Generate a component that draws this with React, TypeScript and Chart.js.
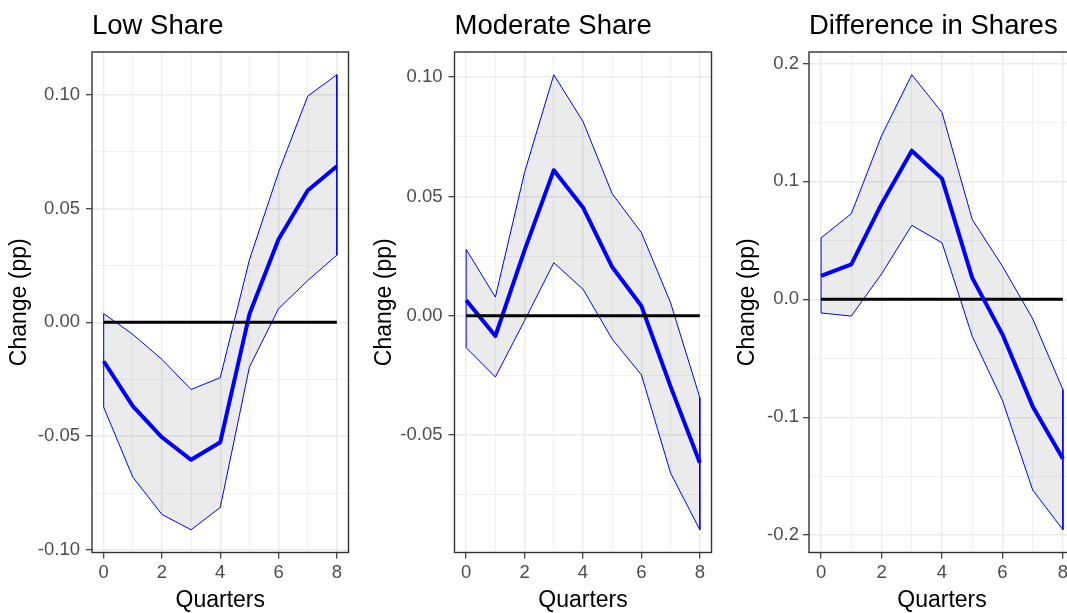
import React, { useEffect, useRef } from "react";
import { Chart, registerables } from "chart.js";

Chart.register(...registerables);

// ---------------- data ----------------
const quarters = [0, 1, 2, 3, 4, 5, 6, 7, 8];
const xMajorTicks = [0, 2, 4, 6, 8];
const xMinorTicks = [1, 3, 5, 7];
const xTickLabels = ["0", "2", "4", "6", "8"];

const lowMid = [-0.0171, -0.0368, -0.0505, -0.0604, -0.0527, 0.0035, 0.0365, 0.0579, 0.0685];
const lowUpper = [0.0038, -0.0053, -0.0163, -0.0295, -0.0243, 0.0274, 0.0659, 0.0993, 0.1087];
const lowLower = [-0.0373, -0.068, -0.0844, -0.0911, -0.0813, -0.0197, 0.006, 0.0183, 0.0295];
const lowYMajor = [-0.1, -0.05, 0, 0.05, 0.1];
const lowYMinor = [-0.075, -0.025, 0.025, 0.075];
const lowYLabels = ["-0.10", "-0.05", "0.00", "0.05", "0.10"];

const modMid = [0.0065, -0.0085, 0.0275, 0.061, 0.0454, 0.0204, 0.0041, -0.0297, -0.0616];
const modUpper = [0.0278, 0.0078, 0.0601, 0.101, 0.0814, 0.0511, 0.0348, 0.0054, -0.0343];
const modLower = [-0.0134, -0.0257, -0.002, 0.0222, 0.0111, -0.0098, -0.0248, -0.066, -0.0897];
const modYMajor = [-0.05, 0, 0.05, 0.1];
const modYMinor = [-0.075, -0.025, 0.025, 0.075];
const modYLabels = ["-0.05", "0.00", "0.05", "0.10"];

const diffMid = [0.0198, 0.0297, 0.0809, 0.126, 0.1023, 0.0182, -0.0297, -0.0908, -0.1353];
const diffUpper = [0.0521, 0.0726, 0.1386, 0.1904, 0.1584, 0.0677, 0.028, -0.0165, -0.0766];
const diffLower = [-0.0116, -0.0142, 0.0215, 0.0627, 0.0479, -0.0314, -0.0858, -0.1617, -0.1954];
const diffYMajor = [-0.2, -0.1, 0, 0.1, 0.2];
const diffYMinor = [-0.15, -0.05, 0.05, 0.15];
const diffYLabels = ["-0.2", "-0.1", "0.0", "0.1", "0.2"];

const zeroLevel = 0;

// ---------------- style / layout ----------------
const FONT = '"Liberation Sans", Arial, Helvetica, sans-serif';
const BLUE = "#0000FF";
const GRID = "#EBEBEB";
const TICK_TEXT = "#4D4D4D";
const CANVAS_H = 613;

type Panel = {
  title: string;
  mid: number[];
  upper: number[];
  lower: number[];
  yMajor: number[];
  yMinor: number[];
  yLabels: string[];
  left: number;
  width: number;
  axisWidth: number;
  rightPad: number;
  yTitleMid: number;
  tickPad: number;
  zeroOnTop: boolean;
};

const panels: Panel[] = [
  {
    title: "Low Share", mid: lowMid, upper: lowUpper, lower: lowLower,
    yMajor: lowYMajor, yMinor: lowYMinor, yLabels: lowYLabels,
    left: 0, width: 360, axisWidth: 92, rightPad: 11.5, yTitleMid: 20, tickPad: 6, zeroOnTop: true,
  },
  {
    title: "Moderate Share", mid: modMid, upper: modUpper, lower: modLower,
    yMajor: modYMajor, yMinor: modYMinor, yLabels: modYLabels,
    left: 360, width: 363, axisWidth: 94.5, rightPad: 11.5, yTitleMid: 25, tickPad: 6, zeroOnTop: true,
  },
  {
    title: "Difference in Shares", mid: diffMid, upper: diffUpper, lower: diffLower,
    yMajor: diffYMajor, yMinor: diffYMinor, yLabels: diffYLabels,
    left: 720, width: 366, axisWidth: 89, rightPad: 11, yTitleMid: 28, tickPad: 4, zeroOnTop: false,
  },
];

const near = (a: number, b: number) => Math.abs(a - b) < 1e-9;
const inList = (v: number, list: number[]) => list.some((t) => near(t, v));

const framePlugin = {
  id: "panelFrame",
  afterDatasetsDraw(chart: any) {
    const { ctx, chartArea: a } = chart;
    ctx.save();
    ctx.strokeStyle = "#333333";
    ctx.lineWidth = 1.4;
    ctx.strokeRect(a.left, a.top, a.right - a.left, a.bottom - a.top);
    ctx.restore();
  },
};

function PanelChart({ p }: { p: Panel }) {
  const ref = useRef<HTMLCanvasElement | null>(null);

  useEffect(() => {
    if (!ref.current) return;
    const pts = (ys: number[]) => quarters.map((q, i) => ({ x: q, y: ys[i] }));
    const outline = [
      ...quarters.map((q, i) => ({ x: q, y: p.upper[i] })),
      ...quarters.slice().reverse().map((q) => ({ x: q, y: p.lower[q] })),
      { x: quarters[0], y: p.upper[0] },
    ];
    const lo = Math.min(...p.lower, ...p.mid, zeroLevel);
    const hi = Math.max(...p.upper, ...p.mid, zeroLevel);
    const pad = (hi - lo) * 0.05;
    const xPad = (quarters[quarters.length - 1] - quarters[0]) * 0.05;

    const yTicks = [...p.yMajor, ...p.yMinor].sort((a, b) => a - b);
    const xTicks = [...xMajorTicks, ...xMinorTicks].sort((a, b) => a - b);

    const chart = new Chart(ref.current, {
      type: "line",
      data: {
        datasets: [
          {
            label: "upper",
            data: pts(p.upper),
            borderWidth: 0,
            borderColor: "rgba(0,0,0,0)",
            pointRadius: 0,
            fill: false,
            order: 10,
          },
          {
            label: "lower",
            data: pts(p.lower),
            borderWidth: 0,
            borderColor: "rgba(0,0,0,0)",
            backgroundColor: "rgba(0,0,0,0.08)",
            pointRadius: 0,
            fill: 0,
            order: 9,
          },
          {
            label: "band",
            data: outline,
            borderWidth: 1,
            borderColor: BLUE,
            pointRadius: 0,
            fill: false,
            order: 8,
          },
          {
            label: "estimate",
            data: pts(p.mid),
            borderWidth: 4,
            borderColor: BLUE,
            borderJoinStyle: "round",
            pointRadius: 0,
            fill: false,
            order: p.zeroOnTop ? 7 : 6,
          },
          {
            label: "zero",
            data: quarters.map((q) => ({ x: q, y: zeroLevel })),
            borderWidth: 3,
            borderColor: "#000000",
            pointRadius: 0,
            fill: false,
            order: p.zeroOnTop ? 6 : 7,
          },
        ],
      },
      options: {
        responsive: false,
        animation: false,
        events: [],
        layout: { padding: { left: 0, right: p.rightPad, top: 0, bottom: 0 } },
        elements: { line: { tension: 0 } },
        plugins: {
          legend: { display: false },
          tooltip: { enabled: false },
          title: {
            display: true,
            text: p.title,
            align: "start",
            fullSize: false,
            color: "#000000",
            font: { family: FONT, size: 27.5, weight: "normal", lineHeight: 1.2 },
            padding: { top: 9.5, bottom: 9.5 },
          },
        },
        scales: {
          x: {
            type: "linear",
            min: quarters[0] - xPad,
            max: quarters[quarters.length - 1] + xPad,
            afterBuildTicks: (s: any) => {
              s.ticks = xTicks.map((v) => ({ value: v }));
            },
            afterFit: (s: any) => {
              s.height = 60.5;
            },
            ticks: {
              autoSkip: false,
              maxRotation: 0,
              padding: 3,
              color: TICK_TEXT,
              font: { family: FONT, size: 18.5, lineHeight: 1.2 },
              callback: (v: any) => {
                const idx = xMajorTicks.findIndex((t) => near(t, Number(v)));
                return idx >= 0 ? xTickLabels[idx] : "";
              },
            },
            grid: {
              color: GRID,
              lineWidth: (c: any) => (c.tick && inList(c.tick.value, xMajorTicks) ? 1.4 : 0.7),
              tickColor: (c: any) => (c.tick && inList(c.tick.value, xMajorTicks) ? "#333333" : "rgba(0,0,0,0)"),
              tickWidth: 1.2,
              tickLength: 6,
            },
            border: { display: false },
            title: {
              display: true,
              text: "Quarters",
              color: "#000000",
              font: { family: FONT, size: 23, lineHeight: 1.1 },
              padding: { top: 0, bottom: 0 },
            },
          },
          y: {
            type: "linear",
            min: lo - pad,
            max: hi + pad,
            afterBuildTicks: (s: any) => {
              s.ticks = yTicks.map((v) => ({ value: v }));
            },
            afterFit: (s: any) => {
              s.width = p.axisWidth;
            },
            ticks: {
              autoSkip: false,
              padding: p.tickPad,
              color: TICK_TEXT,
              font: { family: FONT, size: 18.5, lineHeight: 1.2 },
              callback: (v: any) => {
                const idx = p.yMajor.findIndex((t) => near(t, Number(v)));
                return idx >= 0 ? p.yLabels[idx] : "";
              },
            },
            grid: {
              color: GRID,
              lineWidth: (c: any) => (c.tick && inList(c.tick.value, p.yMajor) ? 1.4 : 0.7),
              tickColor: (c: any) => (c.tick && inList(c.tick.value, p.yMajor) ? "#333333" : "rgba(0,0,0,0)"),
              tickWidth: 1.2,
              tickLength: 6,
            },
            border: { display: false },
            title: {
              display: true,
              text: "Change (pp)",
              color: "#000000",
              font: { family: FONT, size: 23, lineHeight: 1.2 },
              padding: { top: p.yTitleMid - 13.8, bottom: 0 },
            },
          },
        },
      },
      plugins: [framePlugin],
    } as any);

    return () => chart.destroy();
  }, [p]);

  return (
    <canvas
      ref={ref}
      width={p.width}
      height={CANVAS_H}
      style={{ position: "absolute", left: p.left, top: 0, width: p.width, height: CANVAS_H }}
    />
  );
}

export default function App() {
  return (
    <div
      style={{
        position: "absolute",
        left: 0,
        top: 0,
        width: 1067,
        height: 613,
        overflow: "hidden",
        background: "#ffffff",
      }}
    >
      {panels.map((p) => (
        <PanelChart key={p.title} p={p} />
      ))}
    </div>
  );
}
